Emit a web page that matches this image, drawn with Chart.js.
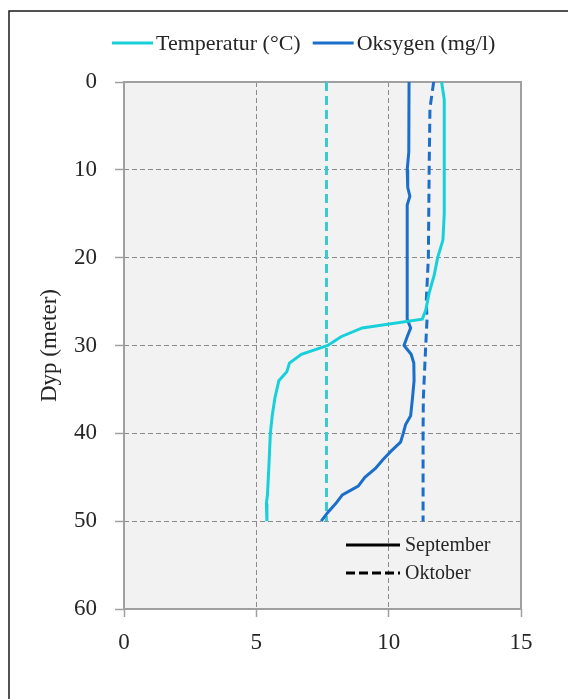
<!DOCTYPE html>
<html>
<head>
<meta charset="utf-8">
<title>Dybdeprofil</title>
<script src="https://cdn.jsdelivr.net/npm/chart.js@4.4.1/dist/chart.umd.min.js"></script>
<style>
  html, body { margin: 0; padding: 0; background: #fff; }
  canvas { display: block; }
</style>
</head>
<body>
<canvas id="profil" width="568" height="699"></canvas>
<script>
// Målinger: dyp (m) og verdi
const sepTempDyp = [0, 2, 5, 10, 15, 18, 20, 22, 24, 26, 27, 28, 29, 30, 31, 32, 33, 34, 36, 38, 40, 44, 47, 48, 50];
const sepTemp    = [12.0, 12.1, 12.1, 12.1, 12.1, 12.05, 11.85, 11.72, 11.53, 11.4, 11.27, 9.0, 8.2, 7.7, 6.7, 6.25, 6.15, 5.85, 5.7, 5.6, 5.53, 5.47, 5.42, 5.38, 5.4];

const sepOksDyp = [0, 8, 10, 12, 13, 14, 20, 27, 28, 29, 30, 31, 32, 34, 36, 38, 39, 40, 41, 42, 43, 44, 45, 46, 47, 48, 49, 50];
const sepOks    = [10.77, 10.76, 10.7, 10.72, 10.8, 10.7, 10.7, 10.7, 10.83, 10.7, 10.58, 10.85, 10.95, 10.96, 10.9, 10.83, 10.64, 10.55, 10.45, 10.1, 9.78, 9.5, 9.1, 8.85, 8.25, 8.0, 7.7, 7.45];

const oktTempDyp = [0, 10, 20, 30, 40, 50];
const oktTemp    = [7.65, 7.65, 7.65, 7.65, 7.65, 7.65];

const oktOksDyp = [0, 3, 10, 20, 25, 27, 30, 36, 40, 50];
const oktOks    = [11.7, 11.56, 11.53, 11.5, 11.42, 11.45, 11.4, 11.31, 11.3, 11.3];

const serier = ['Temperatur (°C)', 'Oksygen (mg/l)'];
const maaneder = ['September', 'Oktober'];
const xTicks = [0, 5, 10, 15];
const yTicks = [0, 10, 20, 30, 40, 50, 60];

const CYAN = '#18d0da';
const CYAN_OKT = '#3cc8cc';
const BLAA = '#1b6fca';
const TEKST = '#262626';
const FONT = "'Liberation Serif', 'Times New Roman', serif";

const punkter = (dyp, verdi) => dyp.map((d, i) => ({ x: verdi[i], y: d }));

function linje(label, data, farge, stiplet) {
  return {
    label,
    data,
    showLine: true,
    borderColor: farge,
    backgroundColor: farge,
    borderWidth: 3,
    borderDash: stiplet ? [9, 5] : [],
    pointRadius: 0,
    pointHoverRadius: 0,
    tension: 0,
    fill: false
  };
}

// bakgrunn, ytre ramme og ramme rundt plottet
const ramme = {
  id: 'ramme',
  beforeDraw(chart) {
    const { ctx, chartArea: a, width, height } = chart;
    ctx.save();
    ctx.fillStyle = '#fff';
    ctx.fillRect(0, 0, width, height);
    ctx.strokeStyle = '#1a1a1a';
    ctx.lineWidth = 1.5;
    ctx.beginPath();
    ctx.moveTo(width, 11);
    ctx.lineTo(9, 11);
    ctx.lineTo(9, height);
    ctx.stroke();
    ctx.fillStyle = '#f2f2f2';
    ctx.fillRect(a.left, a.top, a.width, a.height);
    ctx.restore();
  },
  beforeDatasetsDraw(chart) {
    const { ctx, chartArea: a } = chart;
    ctx.save();
    ctx.strokeStyle = '#a0a0a0';
    ctx.lineWidth = 2;
    ctx.strokeRect(a.left, a.top, a.width, a.height);
    ctx.restore();
  }
};

// to forklaringer: parametere øverst, måneder nede i plottet
const forklaring = {
  id: 'forklaring',
  afterDraw(chart) {
    const { ctx } = chart;
    const ds = chart.data.datasets;
    ctx.save();
    ctx.textBaseline = 'middle';
    ctx.textAlign = 'left';
    ctx.fillStyle = TEKST;

    ctx.font = '22px ' + FONT;
    let x = 112;
    const yTop = 43;
    [ds[0], ds[1]].forEach(d => {
      ctx.strokeStyle = d.borderColor;
      ctx.lineWidth = 3;
      ctx.setLineDash([]);
      ctx.beginPath();
      ctx.moveTo(x, yTop);
      ctx.lineTo(x + 41, yTop);
      ctx.stroke();
      ctx.fillText(d.label, x + 44, yTop + 1);
      x += 44 + ctx.measureText(d.label).width + 12;
    });

    ctx.font = '20px ' + FONT;
    maaneder.forEach((m, i) => {
      const y = 545 + i * 28;
      ctx.strokeStyle = '#000';
      ctx.lineWidth = 3;
      ctx.setLineDash(i === 0 ? [] : [9, 4]);
      ctx.beginPath();
      ctx.moveTo(346, y);
      ctx.lineTo(400, y);
      ctx.stroke();
      ctx.fillText(m, 405, y + 1);
    });
    ctx.restore();
  }
};

const kantFri = (kanter) => (c) => kanter.includes(c.tick && c.tick.value) ? 'rgba(0,0,0,0)' : '#8a8a8a';

new Chart(document.getElementById('profil'), {
  type: 'scatter',
  data: {
    datasets: [
      linje(serier[0], punkter(sepTempDyp, sepTemp), CYAN, false),
      linje(serier[1], punkter(sepOksDyp, sepOks), BLAA, false),
      linje(serier[0] + ' ' + maaneder[1], punkter(oktTempDyp, oktTemp), CYAN_OKT, true),
      linje(serier[1] + ' ' + maaneder[1], punkter(oktOksDyp, oktOks), BLAA, true)
    ]
  },
  options: {
    responsive: false,
    devicePixelRatio: 1,
    animation: false,
    layout: { padding: { left: 0, top: 82, right: 47, bottom: 0 } },
    plugins: {
      legend: { display: false },
      tooltip: { enabled: false }
    },
    scales: {
      x: {
        type: 'linear',
        min: 0,
        max: 15,
        afterBuildTicks: s => { s.ticks = xTicks.map(v => ({ value: v })); },
        afterFit: s => { s.height = 90; },
        grid: {
          color: kantFri([0, 15]),
          lineWidth: 1,
          tickLength: 8,
          tickColor: '#a0a0a0',
          tickWidth: 1.5
        },
        border: { display: false, dash: [5, 3] },
        ticks: {
          padding: 12,
          color: TEKST,
          font: { family: FONT, size: 23 }
        }
      },
      y: {
        type: 'linear',
        reverse: true,
        min: 0,
        max: 60,
        afterBuildTicks: s => { s.ticks = yTicks.map(v => ({ value: v })); },
        afterFit: s => { s.width = 124; },
        grid: {
          color: kantFri([0, 60]),
          lineWidth: 1,
          tickLength: 9,
          tickColor: '#a0a0a0',
          tickWidth: 1.5
        },
        border: { display: false, dash: [5, 3] },
        ticks: {
          padding: 18,
          color: TEKST,
          font: { family: FONT, size: 23 }
        },
        title: {
          display: true,
          text: 'Dyp (meter)',
          color: TEKST,
          font: { family: FONT, size: 23 },
          padding: { top: 36, bottom: 0 }
        }
      }
    }
  },
  plugins: [ramme, forklaring]
});
</script>
</body>
</html>
